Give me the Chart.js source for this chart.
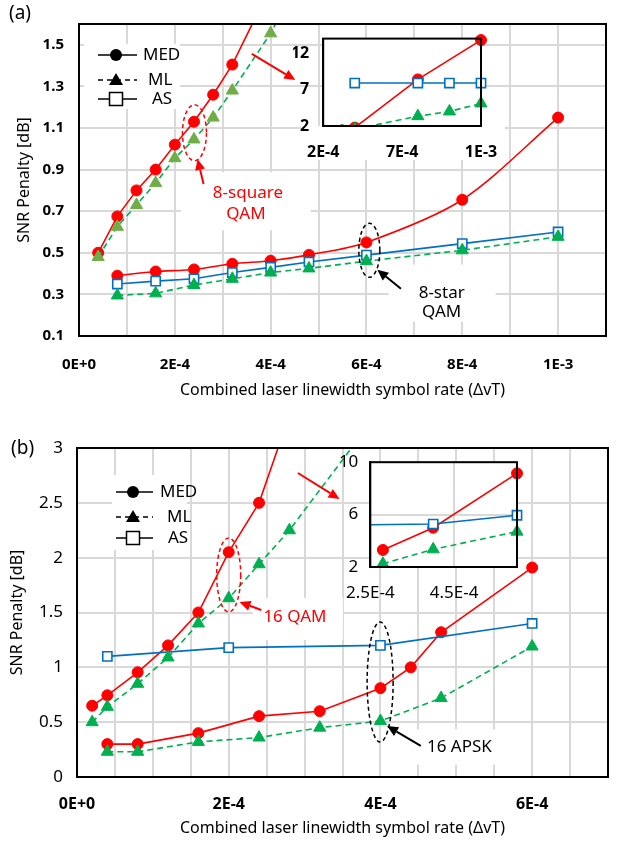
<!DOCTYPE html>
<html>
<head>
<meta charset="utf-8">
<script src="https://cdn.jsdelivr.net/npm/chart.js@4.4.1/dist/chart.umd.min.js"></script>
<style>
body { margin: 0; background: #fff; }
#wrap { position: relative; width: 626px; height: 841px; background: #fff; font-family: "Noto Sans", sans-serif; }
canvas { position: absolute; }
.tag { position: absolute; font-size: 19px; line-height: 1; color: #000; }
</style>
</head>
<body>
<div id="wrap">
  <canvas id="chartA" width="626" height="410" style="left:0;top:0"></canvas>
  <canvas id="insetA" width="230" height="170" style="left:290px;top:15px"></canvas>
  <canvas id="chartB" width="626" height="431" style="left:0;top:410px"></canvas>
  <canvas id="insetB" width="230" height="170" style="left:330px;top:440px"></canvas>
  <div class="tag" style="left:9px;top:3px">(a)</div>
  <div class="tag" style="left:11px;top:438px">(b)</div>
</div>
<script>
// ---- panel (a): 8-square QAM and 8-star QAM ----
const sqMedX = [4e-5, 8e-5, 1.2e-4, 1.6e-4, 2e-4, 2.4e-4, 2.8e-4, 3.2e-4, 4e-4, 8e-4, 1.2e-3];
const sqMed = [0.50, 0.675, 0.80, 0.90, 1.02, 1.13, 1.26, 1.405, 1.78, 8.4, 13.8];
const sqMlX = [4e-5, 8e-5, 1.2e-4, 1.6e-4, 2e-4, 2.4e-4, 2.8e-4, 3.2e-4, 4e-4, 8e-4, 1e-3, 1.2e-3];
const sqMl = [0.48, 0.625, 0.73, 0.835, 0.955, 1.045, 1.15, 1.28, 1.555, 3.35, 4.0, 5.1];
const sqAsX = [4e-4, 8e-4, 1e-3, 1.2e-3];
const sqAs = [7.9, 7.9, 7.9, 7.9];

const stX = [8e-5, 1.6e-4, 2.4e-4, 3.2e-4, 4e-4, 4.8e-4, 6e-4, 8e-4, 1e-3];
const stMed = [0.39, 0.41, 0.42, 0.447, 0.462, 0.49, 0.55, 0.755, 1.15];
const stAs = [0.35, 0.364, 0.375, 0.405, 0.43, 0.456, 0.489, 0.544, 0.60];
const stMl = [0.295, 0.305, 0.345, 0.375, 0.405, 0.425, 0.46, 0.512, 0.577];

const xTicksA = [0, 2e-4, 4e-4, 6e-4, 8e-4, 1e-3];
const xLabelsA = ['0E+0', '2E-4', '4E-4', '6E-4', '8E-4', '1E-3'];
const xGridA = [0, 1e-4, 2e-4, 3e-4, 4e-4, 5e-4, 6e-4, 7e-4, 8e-4, 9e-4, 1e-3, 1.1e-3];
const yTicksA = [0.1, 0.3, 0.5, 0.7, 0.9, 1.1, 1.3, 1.5];
const yLabelsA = ['0.1', '0.3', '0.5', '0.7', '0.9', '1.1', '1.3', '1.5'];

const xTicksIA = [2e-4, 7e-4, 1.2e-3];
const xLabelsIA = ['2E-4', '7E-4', '1E-3'];
const yTicksIA = [2, 7, 12];
const yLabelsIA = ['2', '7', '12'];

// ---- panel (b): 16 QAM and 16 APSK ----
const qX = [2e-5, 4e-5, 8e-5, 1.2e-4, 1.6e-4, 2e-4, 2.4e-4, 2.8e-4, 4e-4, 6e-4];
const qMed = [0.65, 0.745, 0.955, 1.2, 1.5, 2.05, 2.5, 3.3, 5.0, 9.15];
const qMl = [0.5, 0.64, 0.85, 1.09, 1.4, 1.63, 1.94, 2.25, 3.35, 4.7];
const qAsX = [2e-4, 4e-4, 6e-4];
const qAs = [5.2, 5.28, 5.95];

const apX = [4e-5, 8e-5, 1.6e-4, 2.4e-4, 3.2e-4, 4e-4, 4.4e-4, 4.8e-4, 6e-4];
const apMed = [0.3, 0.3, 0.4, 0.555, 0.6, 0.81, 1.0, 1.32, 1.91];
const apMlX = [4e-5, 8e-5, 1.6e-4, 2.4e-4, 3.2e-4, 4e-4, 4.8e-4, 6e-4];
const apMl = [0.23, 0.23, 0.32, 0.36, 0.45, 0.51, 0.72, 1.19];
const apAsX = [4e-5, 2e-4, 4e-4, 6e-4];
const apAs = [1.1, 1.18, 1.2, 1.4];

const xTicksB = [0, 2e-4, 4e-4, 6e-4];
const xLabelsB = ['0E+0', '2E-4', '4E-4', '6E-4'];
const xGridB = [0, 5e-5, 1e-4, 1.5e-4, 2e-4, 2.5e-4, 3e-4, 3.5e-4, 4e-4, 4.5e-4, 5e-4, 5.5e-4, 6e-4, 6.5e-4, 7e-4];
const yTicksB = [0, 0.5, 1, 1.5, 2, 2.5, 3];
const yLabelsB = ['0', '0.5', '1', '1.5', '2', '2.5', '3'];

const xTicksIB = [2.5e-4, 4.5e-4];
const xLabelsIB = ['2.5E-4', '4.5E-4'];
const yTicksIB = [2, 6, 10];
const yLabelsIB = ['2', '6', '10'];

const RED = '#ff0000', GREEN = '#00b050', OLIVE = '#70ad47', BLUE = '#0070c0', GRID = '#d9d9d9';
Chart.defaults.font.family = '"Noto Sans", sans-serif';
Chart.defaults.color = '#000';

const pts = (xs, ys) => xs.map((x, i) => ({ x: x, y: ys[i] }));

function med(xs, ys, tension) {
  return { data: pts(xs, ys), borderColor: RED, borderWidth: 1.6, tension: tension || 0,
    pointStyle: 'circle', pointRadius: 5.5, pointBackgroundColor: RED, pointBorderColor: RED, pointBorderWidth: 1 };
}
function ml(xs, ys, fill) {
  return { data: pts(xs, ys), borderColor: GREEN, borderWidth: 1.6, borderDash: [6, 4],
    pointStyle: 'triangle', pointRadius: 7, pointBackgroundColor: fill || GREEN, pointBorderColor: fill || GREEN, pointBorderWidth: 1 };
}
function as(xs, ys) {
  return { data: pts(xs, ys), borderColor: BLUE, borderWidth: 1.6,
    pointStyle: 'rect', pointRadius: 6.5, pointBackgroundColor: '#fff', pointBorderColor: BLUE, pointBorderWidth: 1.6 };
}

function labeler(vals, labels) {
  return v => {
    const i = vals.findIndex(t => Math.abs(t - v) < 1e-9);
    return i < 0 ? '' : labels[i];
  };
}

function axes(o) {
  return {
    x: {
      type: 'linear', min: o.xMin, max: o.xMax,
      afterBuildTicks: s => { s.ticks = o.xGrid.map(v => ({ value: v })); },
      afterFit: s => { s.height = o.xH; },
      ticks: { autoSkip: false, maxRotation: 0, padding: o.xPad, font: o.xFont, color: '#000',
        callback: labeler(o.xTicks, o.xLabels) },
      grid: { display: o.grid, color: GRID, lineWidth: 2, drawTicks: false },
      border: { display: true, color: '#000', width: 2 },
      title: o.xTitle ? { display: true, text: o.xTitle, color: '#000', font: { size: 16 },
        padding: { top: 0, bottom: o.xTitlePad } } : { display: false }
    },
    y: {
      type: 'linear', min: o.yMin, max: o.yMax,
      afterBuildTicks: s => { s.ticks = o.yGrid.map(v => ({ value: v })); },
      afterFit: s => { s.width = o.yW; },
      ticks: { autoSkip: false, padding: o.yPad, font: o.yFont, color: '#000',
        callback: labeler(o.yTicks, o.yLabels) },
      grid: { display: o.grid, color: GRID, lineWidth: 2, drawTicks: false },
      border: { display: true, color: '#000', width: 2 },
      title: o.yTitle ? { display: true, text: o.yTitle, color: '#000', font: { size: 16 },
        padding: { top: o.yTitlePad, bottom: 0 } } : { display: false }
    }
  };
}

function arrow(ctx, x1, y1, x2, y2, color) {
  const a = Math.atan2(y2 - y1, x2 - x1), hl = 11, hw = 5;
  const bx = x2 - hl * Math.cos(a), by = y2 - hl * Math.sin(a);
  ctx.setLineDash([]);
  ctx.strokeStyle = color; ctx.fillStyle = color; ctx.lineWidth = 2;
  ctx.beginPath(); ctx.moveTo(x1, y1); ctx.lineTo(bx, by); ctx.stroke();
  ctx.beginPath(); ctx.moveTo(x2, y2);
  ctx.lineTo(bx + hw * Math.sin(a), by - hw * Math.cos(a));
  ctx.lineTo(bx - hw * Math.sin(a), by + hw * Math.cos(a));
  ctx.closePath(); ctx.fill();
}

function symbol(ctx, kind, x, y) {
  ctx.setLineDash([]);
  ctx.fillStyle = '#000'; ctx.strokeStyle = '#000'; ctx.lineWidth = 1.5;
  ctx.beginPath();
  if (kind === 'MED') { ctx.arc(x, y, 6, 0, Math.PI * 2); ctx.fill(); }
  else if (kind === 'ML') { ctx.moveTo(x, y - 7); ctx.lineTo(x + 7, y + 5); ctx.lineTo(x - 7, y + 5); ctx.closePath(); ctx.fill(); }
  else { ctx.rect(x - 6.5, y - 6.5, 13, 13); ctx.fillStyle = '#fff'; ctx.fill(); ctx.stroke(); }
}

const decor = {
  id: 'decor',
  beforeDraw(chart, args, o) {
    if (!o.fill) return;
    const ctx = chart.ctx, a = chart.chartArea, f = o.fill;
    ctx.save();
    ctx.fillStyle = '#fff';
    ctx.fillRect(a.left, a.top, a.width, a.height);
    ctx.fillRect(a.left - f.l, a.bottom, a.width + f.l + f.r, f.b);
    ctx.restore();
  },
  beforeDatasetsDraw(chart, args, o) {
    const ctx = chart.ctx, sx = chart.scales.x, sy = chart.scales.y, a = chart.chartArea;
    ctx.save();
    ctx.fillStyle = '#fff';
    (o.boxes || []).forEach(b => {
      const x = sx.getPixelForValue(b.x), y = sy.getPixelForValue(b.y);
      ctx.fillRect(x - b.w / 2, y - b.h / 2, b.w, b.h);
    });
    if (o.legend) {
      const L = o.legend.box;
      ctx.fillRect(a.left + L[0], a.top + L[1], L[2], L[3]);
    }
    ctx.restore();
  },
  afterDatasetsDraw(chart, args, o) {
    const ctx = chart.ctx, sx = chart.scales.x, sy = chart.scales.y, a = chart.chartArea;
    ctx.save();
    (o.ellipses || []).forEach(e => {
      ctx.setLineDash([4, 3]); ctx.lineWidth = 1.5; ctx.strokeStyle = e.color;
      ctx.beginPath();
      ctx.ellipse(sx.getPixelForValue(e.x), sy.getPixelForValue(e.y), e.rx, e.ry, 0, 0, Math.PI * 2);
      ctx.stroke();
    });
    (o.arrows || []).forEach(r => {
      arrow(ctx, sx.getPixelForValue(r.x1), sy.getPixelForValue(r.y1),
        sx.getPixelForValue(r.x2), sy.getPixelForValue(r.y2), r.color);
    });
    ctx.textAlign = 'center'; ctx.textBaseline = 'middle';
    (o.texts || []).forEach(t => {
      ctx.font = '17px "Noto Sans", sans-serif';
      ctx.fillStyle = t.color;
      ctx.fillText(t.s, sx.getPixelForValue(t.x), sy.getPixelForValue(t.y));
    });
    if (o.legend) {
      const g = o.legend;
      g.rows.forEach(r => {
        const y = a.top + r[0];
        ctx.setLineDash(r[2] === 'ML' ? [5, 4] : []);
        ctx.strokeStyle = '#000'; ctx.lineWidth = 1.5;
        ctx.beginPath(); ctx.moveTo(a.left + g.x1, y); ctx.lineTo(a.left + g.x2, y); ctx.stroke();
        symbol(ctx, r[2], a.left + g.mx, y);
        ctx.fillStyle = '#000'; ctx.textAlign = 'left';
        ctx.font = '17px "Noto Sans", sans-serif';
        ctx.fillText(r[2], a.left + r[1], y);
      });
    }
    ctx.restore();
  },
  afterDraw(chart) {
    const ctx = chart.ctx, a = chart.chartArea;
    ctx.save();
    ctx.setLineDash([]); ctx.strokeStyle = '#000'; ctx.lineWidth = 2;
    ctx.strokeRect(a.left, a.top, a.width, a.height);
    ctx.restore();
  }
};
Chart.register(decor);

const base = { responsive: false, animation: false, events: [] };
const bold15 = { size: 15, weight: 'bold' };

// main chart (a)
new Chart(document.getElementById('chartA'), {
  type: 'line',
  data: { datasets: [
    ml(sqMlX, sqMl, OLIVE), ml(stX, stMl), as(sqAsX, sqAs), as(stX, stAs),
    med(sqMedX, sqMed), med(stX, stMed, 0.3)
  ] },
  options: Object.assign({}, base, {
    layout: { padding: { top: 12, right: 11, left: 0, bottom: 0 } },
    scales: axes({ xMin: 0, xMax: 1.1e-3, xGrid: xGridA, xTicks: xTicksA, xLabels: xLabelsA, xH: 74, xPad: 20, xFont: bold15,
      xTitle: 'Combined laser linewidth symbol rate (ΔvT)', xTitlePad: 10,
      yMin: 0.1, yMax: 1.6, yGrid: yTicksA, yTicks: yTicksA, yLabels: yLabelsA, yW: 79, yPad: 15, yFont: bold15,
      yTitle: 'SNR Penalty [dB]', yTitlePad: 15, grid: true }),
    plugins: { legend: { display: false }, tooltip: { enabled: false },
      decor: {
        boxes: [{ x: 3.48e-4, y: 0.748, w: 130, h: 58 }, { x: 7.58e-4, y: 0.306, w: 107, h: 57 }],
        ellipses: [{ x: 2.41e-4, y: 1.077, rx: 12, ry: 28, color: RED }, { x: 6.06e-4, y: 0.512, rx: 10.5, ry: 27, color: '#000' }],
        arrows: [
          { x1: 2.6e-4, y1: 0.831, x2: 2.474e-4, y2: 0.951, color: RED },
          { x1: 3.608e-4, y1: 1.456, x2: 4.515e-4, y2: 1.331, color: RED },
          { x1: 6.72e-4, y1: 0.327, x2: 6.227e-4, y2: 0.419, color: '#000' }
        ],
        texts: [
          { s: '8-square', x: 3.526e-4, y: 0.785, color: RED }, { s: 'QAM', x: 3.485e-4, y: 0.688, color: RED },
          { s: '8-star', x: 7.57e-4, y: 0.304, color: '#000' }, { s: 'QAM', x: 7.57e-4, y: 0.216, color: '#000' }
        ],
        legend: { box: [5, 20, 96, 65], x1: 19, x2: 58, mx: 37, rows: [[31, 64, 'MED'], [56, 69, 'ML'], [75, 73, 'AS']] }
      } }
  })
});

// inset (a)
new Chart(document.getElementById('insetA'), {
  type: 'line',
  data: { datasets: [ml(sqMlX, sqMl), as(sqAsX, sqAs), med(sqMedX, sqMed)].map(d => Object.assign(d, { clip: { left: 0, top: 8, right: 8, bottom: 0 } })) },
  options: Object.assign({}, base, {
    layout: { padding: { top: 13, right: 39, left: 0, bottom: 0 } },
    scales: axes({ xMin: 2e-4, xMax: 1.2e-3, xGrid: xTicksIA, xTicks: xTicksIA, xLabels: xLabelsIA, xH: 59, xPad: 17, xFont: { size: 16, weight: 'bold' },
      yMin: 2, yMax: 14, yGrid: yTicksIA, yTicks: yTicksIA, yLabels: yLabelsIA, yW: 30, yPad: 14, yFont: { size: 16, weight: 'bold' }, grid: false }),
    plugins: { legend: { display: false }, tooltip: { enabled: false }, decor: { fill: { l: 22, r: 24, b: 34 } } }
  })
});

// main chart (b)
new Chart(document.getElementById('chartB'), {
  type: 'line',
  data: { datasets: [
    ml(qX, qMl), ml(apMlX, apMl), as(qAsX, qAs), as(apAsX, apAs),
    med(qX, qMed), med(apX, apMed)
  ] },
  options: Object.assign({}, base, {
    layout: { padding: { top: 38, right: 13, left: 0, bottom: 0 } },
    scales: axes({ xMin: 0, xMax: 7e-4, xGrid: xGridB, xTicks: xTicksB, xLabels: xLabelsB, xH: 64, xPad: 18, xFont: { size: 16, weight: 'bold' },
      xTitle: 'Combined laser linewidth symbol rate (ΔvT)', xTitlePad: 3,
      yMin: 0, yMax: 3, yGrid: yTicksB, yTicks: yTicksB, yLabels: yLabelsB, yW: 77, yPad: 14, yFont: { size: 17 },
      yTitle: 'SNR Penalty [dB]', yTitlePad: 8, grid: true }),
    plugins: { legend: { display: false }, tooltip: { enabled: false },
      decor: {
        boxes: [{ x: 2.912e-4, y: 1.441, w: 90, h: 42 }, { x: 5.03e-4, y: 0.274, w: 95, h: 35 }],
        ellipses: [{ x: 2e-4, y: 1.842, rx: 12, ry: 37, color: RED }, { x: 3.996e-4, y: 0.866, rx: 13, ry: 60, color: '#000' }],
        arrows: [
          { x1: 2.429e-4, y1: 1.523, x2: 2.142e-4, y2: 1.596, color: RED },
          { x1: 2.912e-4, y1: 2.772, x2: 3.461e-4, y2: 2.535, color: RED },
          { x1: 4.532e-4, y1: 0.283, x2: 4.088e-4, y2: 0.465, color: '#000' }
        ],
        texts: [
          { s: '16 QAM', x: 2.873e-4, y: 1.459, color: RED },
          { s: '16 APSK', x: 5.041e-4, y: 0.274, color: '#000' }
        ],
        legend: { box: [35, 27, 75, 75], x1: 39, x2: 76, mx: 56, rows: [[44, 83, 'MED'], [69, 90, 'ML'], [90, 91, 'AS']] }
      } }
  })
});

// inset (b)
const keep = (xs, ys) => [xs.filter((x, i) => x >= 2.8e-4), ys.filter((y, i) => xs[i] >= 2.8e-4)];
const qMedIn = keep(qX, qMed), qMlIn = keep(qX, qMl);
new Chart(document.getElementById('insetB'), {
  type: 'line',
  data: { datasets: [ml(qMlIn[0], qMlIn[1]), as(qAsX, qAs), med(qMedIn[0], qMedIn[1])].map(d => Object.assign(d, { clip: { left: 0, top: 8, right: 8, bottom: 8 } })) },
  options: Object.assign({}, base, {
    layout: { padding: { top: 19, right: 43, left: 0, bottom: 0 } },
    scales: axes({ xMin: 2.5e-4, xMax: 6e-4, xGrid: xTicksIB, xTicks: xTicksIB, xLabels: xLabelsIB, xH: 43, xPad: 16, xFont: { size: 17 },
      yMin: 2, yMax: 10, yGrid: yTicksIB, yTicks: yTicksIB, yLabels: yLabelsIB, yW: 33, yPad: 12, yFont: { size: 17 }, grid: true }),
    plugins: { legend: { display: false }, tooltip: { enabled: false }, decor: { fill: { l: 0, r: 0, b: 0 } } }
  })
});
</script>
</body>
</html>
